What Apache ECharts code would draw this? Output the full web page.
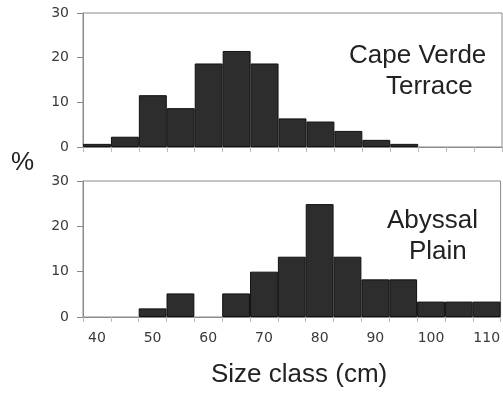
<!DOCTYPE html>
<html>
<head>
<meta charset="utf-8">
<script src="https://cdn.jsdelivr.net/npm/echarts@6/dist/echarts.min.js"></script>
<style>
  html, body { margin: 0; padding: 0; background: #fff; }
  #chart { width: 503px; height: 397px; }
</style>
</head>
<body>
<div id="chart"></div>
<script>
// size classes (cm), bins of 5 cm
var sizeClasses = ['40','45','50','55','60','65','70','75','80','85','90','95','100','105','110'];
// % per size class
var capeVerde = [0.7, 2.3, 11.6, 8.7, 18.7, 21.5, 18.7, 6.4, 5.7, 3.6, 1.6, 0.7, 0, 0, 0];
var abyssal   = [0, 0, 1.9, 5.2, 0, 5.2, 10.0, 13.3, 24.9, 13.3, 8.3, 8.3, 3.4, 3.4, 3.4];
var yTicks = [0, 10, 20, 30];

var chart = echarts.init(document.getElementById('chart'));

var labelFont = { fontFamily: 'DejaVu Sans', fontSize: 14, color: '#3a3a3a' };
var axisGray = '#8a8a8a';

function xAxis(idx, showLabel) {
    return {
        type: 'category',
        gridIndex: idx,
        data: sizeClasses,
        boundaryGap: true,
        axisLine: { lineStyle: { color: axisGray, width: 1 } },
        axisTick: { show: true, interval: 0, length: 5, lineStyle: { color: '#bbb' } },
        axisLabel: Object.assign({ show: showLabel, interval: 1, margin: 14 }, labelFont)
    };
}

function yAxis(idx) {
    return {
        type: 'value',
        gridIndex: idx,
        min: yTicks[0],
        max: yTicks[yTicks.length - 1],
        interval: 10,
        splitLine: { show: false },
        axisLine: { show: true, lineStyle: { color: axisGray, width: 1 } },
        axisTick: { show: true, length: 6, lineStyle: { color: axisGray } },
        axisLabel: Object.assign({ margin: 14 }, labelFont)
    };
}

function barSeries(idx, values) {
    return {
        type: 'bar',
        xAxisIndex: idx,
        yAxisIndex: idx,
        barCategoryGap: 0,
        data: values.map(function (v) { return v === 0 ? null : v; }),
        itemStyle: { color: '#2d2d2d', borderColor: '#111', borderWidth: 1 },
        silent: true
    };
}

var bigText = { fontFamily: 'Liberation Sans, Arial', fontSize: 26, fill: '#222', textAlign: 'center' };

var option = {
    animation: false,
    grid: [
        { left: 83, top: 13, right: 1, height: 134, show: true, borderColor: axisGray, borderWidth: 1 },
        { left: 83, top: 181, right: 1, height: 136, show: true, borderColor: axisGray, borderWidth: 1 }
    ],
    xAxis: [xAxis(0, false), xAxis(1, true)],
    yAxis: [yAxis(0), yAxis(1)],
    series: [barSeries(0, capeVerde), barSeries(1, abyssal)],
    graphic: [
        { type: 'text', left: 349, top: 43, style: Object.assign({ text: 'Cape Verde' }, bigText) },
        { type: 'text', left: 386, top: 74, style: Object.assign({ text: 'Terrace' }, bigText) },
        { type: 'text', left: 387, top: 208, style: Object.assign({ text: 'Abyssal' }, bigText) },
        { type: 'text', left: 409, top: 239, style: Object.assign({ text: 'Plain' }, bigText) },
        { type: 'text', left: 11, top: 150, style: Object.assign({ text: '%' }, bigText) },
        { type: 'text', left: 211, top: 362, style: Object.assign({ text: 'Size class (cm)' }, bigText) }
    ]
};

chart.setOption(option);
</script>
</body>
</html>
